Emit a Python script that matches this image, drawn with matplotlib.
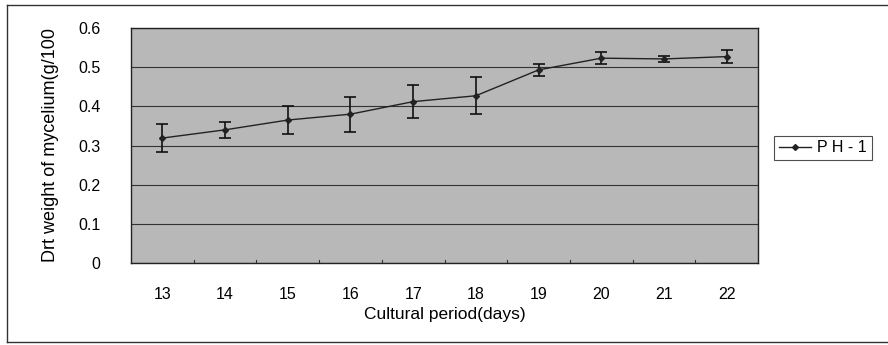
import matplotlib.pyplot as plt
from matplotlib.lines import Line2D

plt.rcParams['font.family'] = ['Liberation Sans', 'DejaVu Sans']

# days of culture and mean dry weight with error
days = [13, 14, 15, 16, 17, 18, 19, 20, 21, 22]
weight = [0.319, 0.340, 0.365, 0.380, 0.412, 0.427, 0.493, 0.523, 0.521, 0.527]
err = [0.035, 0.020, 0.035, 0.045, 0.042, 0.047, 0.015, 0.016, 0.008, 0.017]
yticks = [0, 0.1, 0.2, 0.3, 0.4, 0.5, 0.6]
ytick_labels = ['0', '0.1', '0.2', '0.3', '0.4', '0.5', '0.6']

fig = plt.figure(figsize=(8.88, 3.45), dpi=100)
ax = fig.add_axes([131 / 888, 1 - 263 / 345, 627 / 888, 235 / 345])
ax.set_facecolor('#b8b8b8')

pos = list(range(len(days)))
ax.errorbar(pos, weight, yerr=err, color='#222222', lw=1.0,
            marker='D', ms=3, mfc='#222222', ecolor='#111111',
            elinewidth=1.2, capsize=4, capthick=1.2, zorder=3)

ax.set_xlim(-0.5, len(days) - 0.5)
ax.set_ylim(0, 0.6)
ax.set_yticks(yticks)
ax.set_yticklabels(ytick_labels)
ax.set_xticks(pos)
ax.set_xticklabels([str(d) for d in days])
ax.tick_params(axis='both', length=0, labelsize=11.5)
ax.tick_params(axis='y', pad=22)
ax.tick_params(axis='x', pad=17)
ax.yaxis.grid(True, color='#333333', lw=0.8)
ax.set_axisbelow(True)
for s in ax.spines.values():
    s.set_color('#222222')
    s.set_linewidth(1.0)

ax.set_xlabel('Cultural period(days)', fontsize=12.5, labelpad=4)
ax.set_ylabel('Drt weight of mycelium(g/100', fontsize=13, labelpad=14)

# small tick marks at category boundaries along the bottom
for b in range(1, len(days)):
    ax.plot([b - 0.5, b - 0.5], [0, 0.008], color='#333333', lw=0.8)

# legend
handle = Line2D([], [], color='#222222', lw=1.0, marker='D', ms=3)
leg = fig.legend([handle], ['P H - 1'], loc='center',
                 bbox_to_anchor=(823 / 888, 1 - 148 / 345),
                 frameon=True, fancybox=False, fontsize=11.5,
                 handlelength=2.0, borderpad=0.3, handletextpad=0.4)
leg.get_frame().set_edgecolor('#222222')
leg.get_frame().set_linewidth(0.8)

# outer frame of the chart area
fig.add_artist(Line2D([7 / 888, 888 / 888], [1 - 5 / 345, 1 - 5 / 345], color='#333333', lw=1.0))
fig.add_artist(Line2D([7 / 888, 888 / 888], [1 - 342 / 345, 1 - 342 / 345], color='#333333', lw=1.0))
fig.add_artist(Line2D([7 / 888, 7 / 888], [1 - 5 / 345, 1 - 342 / 345], color='#333333', lw=1.0))

fig.savefig('out.png', dpi=100)
